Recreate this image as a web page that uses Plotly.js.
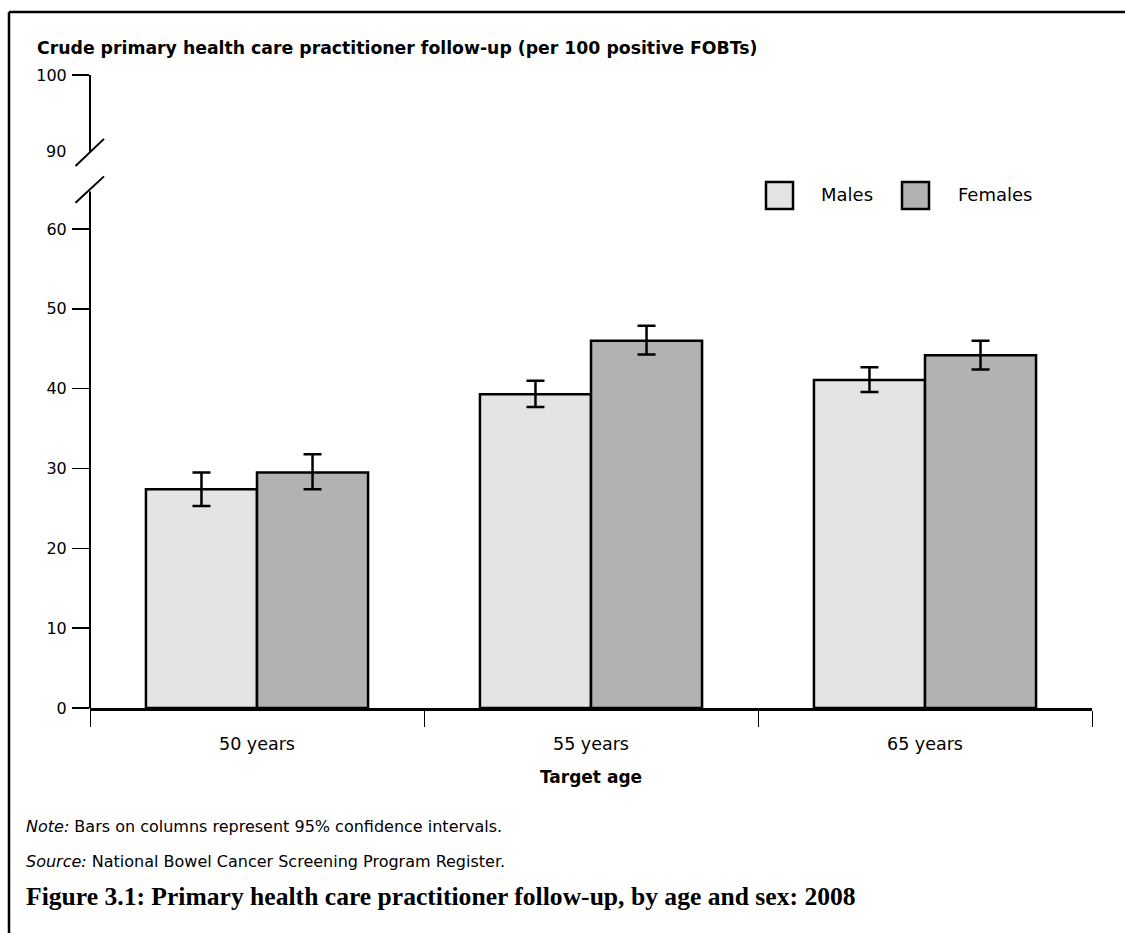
<!DOCTYPE html>
<html>
<head>
<meta charset="utf-8">
<script src="https://cdn.plot.ly/plotly-3.0.1.min.js"></script>
<style>
  html, body { margin: 0; padding: 0; background: #ffffff; }
  #chart { width: 1125px; height: 933px; }
</style>
</head>
<body>
<div id="chart"></div>
<script>
// ---- Data ----
const categories = ['50 years', '55 years', '65 years'];
const seriesNames = ['Males', 'Females'];
const males = [27.4, 39.3, 41.1];
const malesLow = [25.3, 37.7, 39.6];
const malesHigh = [29.5, 41.0, 42.7];
const females = [29.5, 46.0, 44.2];
const femalesLow = [27.4, 44.3, 42.4];
const femalesHigh = [31.8, 47.9, 46.0];
const yTickValues = [0, 10, 20, 30, 40, 50, 60, 100];
const breakLabel = 90;

// ---- Broken-axis mapping (0-60 linear, gap, 90-100 upper segment) ----
function mapY(v) { return v <= 60 ? v : 69.7 + (v - 90) * 0.96; }

const colors = ['#e4e4e4', '#b2b2b2'];
const FONT = 'DejaVu Sans, Verdana, sans-serif';

function barTrace(name, vals, lo, hi, color) {
  return {
    type: 'bar', name: name, x: categories, y: vals,
    marker: { color: color, line: { color: '#000000', width: 2.5 } },
    error_y: {
      type: 'data', symmetric: false,
      array: hi.map((h, i) => +(h - vals[i]).toFixed(2)),
      arrayminus: lo.map((l, i) => +(vals[i] - l).toFixed(2)),
      color: '#000000', thickness: 2.5, width: 9
    },
    showlegend: false, hoverinfo: 'x+y'
  };
}

const data = [
  barTrace(seriesNames[0], males, malesLow, malesHigh, colors[0]),
  barTrace(seriesNames[1], females, femalesLow, femalesHigh, colors[1])
];

// plot area: x 90..1092 px, y 75..708 px
const L = 90, R = 1092, T = 75, B = 708, W = 1125, H = 933;
const px = x => (x - L) / (R - L);
const py = y => (B - y) / (B - T);

const yTop = mapY(100);
const shapes = [
  // frame
  { type: 'line', xref: 'paper', yref: 'paper', x0: px(9), x1: px(1125), y0: py(12), y1: py(12), line: { color: '#000', width: 2.5 } },
  { type: 'line', xref: 'paper', yref: 'paper', x0: px(9), x1: px(9), y0: py(12), y1: py(933), line: { color: '#000', width: 2.5 } },
  // y axis lower segment
  { type: 'line', xref: 'paper', yref: 'y', x0: 0, x1: 0, y0: 0, y1: 64.7, line: { color: '#000', width: 2 } },
  // y axis upper segment
  { type: 'line', xref: 'paper', yref: 'y', x0: 0, x1: 0, y0: 69.7, y1: yTop, line: { color: '#000', width: 2 } },
  // break slashes
  { type: 'line', xref: 'paper', yref: 'y', x0: px(75.5), x1: px(104), y0: 63.3, y1: 66.6, line: { color: '#000', width: 2 } },
  { type: 'line', xref: 'paper', yref: 'y', x0: px(75.5), x1: px(104), y0: 67.9, y1: 71.3, line: { color: '#000', width: 2 } },
  // legend swatches
  { type: 'rect', xref: 'paper', yref: 'paper', x0: px(766), x1: px(793), y0: py(209), y1: py(182), fillcolor: colors[0], line: { color: '#000', width: 2.5 } },
  { type: 'rect', xref: 'paper', yref: 'paper', x0: px(902), x1: px(929), y0: py(209), y1: py(182), fillcolor: colors[1], line: { color: '#000', width: 2.5 } }
];

const annotations = [
  { xref: 'paper', yref: 'y', x: px(68), y: mapY(breakLabel), text: String(breakLabel), showarrow: false, xanchor: 'right', yanchor: 'middle', font: { family: FONT, size: 16, color: '#000' } },
  { xref: 'paper', yref: 'paper', x: px(819), y: py(195), text: seriesNames[0], showarrow: false, xanchor: 'left', yanchor: 'middle', font: { family: FONT, size: 18, color: '#000' } },
  { xref: 'paper', yref: 'paper', x: px(956), y: py(195), text: seriesNames[1], showarrow: false, xanchor: 'left', yanchor: 'middle', font: { family: FONT, size: 18, color: '#000' } },
  { xref: 'paper', yref: 'paper', x: px(24), y: py(826), text: '<i>Note:</i> Bars on columns represent 95% confidence intervals.', showarrow: false, xanchor: 'left', yanchor: 'middle', font: { family: FONT, size: 16, color: '#000' } },
  { xref: 'paper', yref: 'paper', x: px(24), y: py(861), text: '<i>Source:</i> National Bowel Cancer Screening Program Register.', showarrow: false, xanchor: 'left', yanchor: 'middle', font: { family: FONT, size: 16, color: '#000' } },
  { xref: 'paper', yref: 'paper', x: px(24), y: py(897), text: '<b>Figure 3.1: Primary health care practitioner follow-up, by age and sex: 2008</b>', showarrow: false, xanchor: 'left', yanchor: 'middle', font: { family: 'Liberation Serif, Times New Roman, serif', size: 25.6, color: '#000' } }
];

const layout = {
  width: W, height: H,
  margin: { l: L, r: W - R, t: T, b: H - B, pad: 0 },
  paper_bgcolor: '#ffffff', plot_bgcolor: '#ffffff',
  font: { family: FONT, color: '#000' },
  title: {
    text: '<b>Crude primary health care practitioner follow-up (per 100 positive FOBTs)</b>',
    x: 37 / W, xanchor: 'left', xref: 'container',
    y: 1 - 48 / H, yanchor: 'middle', yref: 'container',
    font: { family: FONT, size: 17.3, color: '#000' }
  },
  barmode: 'group', bargap: 0.335, bargroupgap: 0,
  showlegend: false,
  xaxis: {
    type: 'category', range: [-0.5, 2.5],
    showline: true, linecolor: '#000', linewidth: 2.5,
    ticks: 'outside', tickson: 'boundaries', ticklen: 16, tickwidth: 1, tickcolor: '#000',
    tickfont: { family: FONT, size: 17.5, color: '#000' },
    ticklabelstandoff: 18,
    showgrid: false, zeroline: false,
    title: { text: '<b>Target age</b>', font: { family: FONT, size: 17, color: '#000' }, standoff: 19 }
  },
  yaxis: {
    range: [0, yTop], autorange: false,
    tickvals: yTickValues.map(mapY), ticktext: yTickValues.map(String),
    ticks: 'outside', ticklen: 17, tickwidth: 1.5, tickcolor: '#000',
    tickfont: { family: FONT, size: 16, color: '#000' },
    ticklabelstandoff: 2,
    showline: false, showgrid: false, zeroline: false
  },
  shapes: shapes,
  annotations: annotations
};

Plotly.newPlot('chart', data, layout, { displayModeBar: false, staticPlot: true });
</script>
</body>
</html>
